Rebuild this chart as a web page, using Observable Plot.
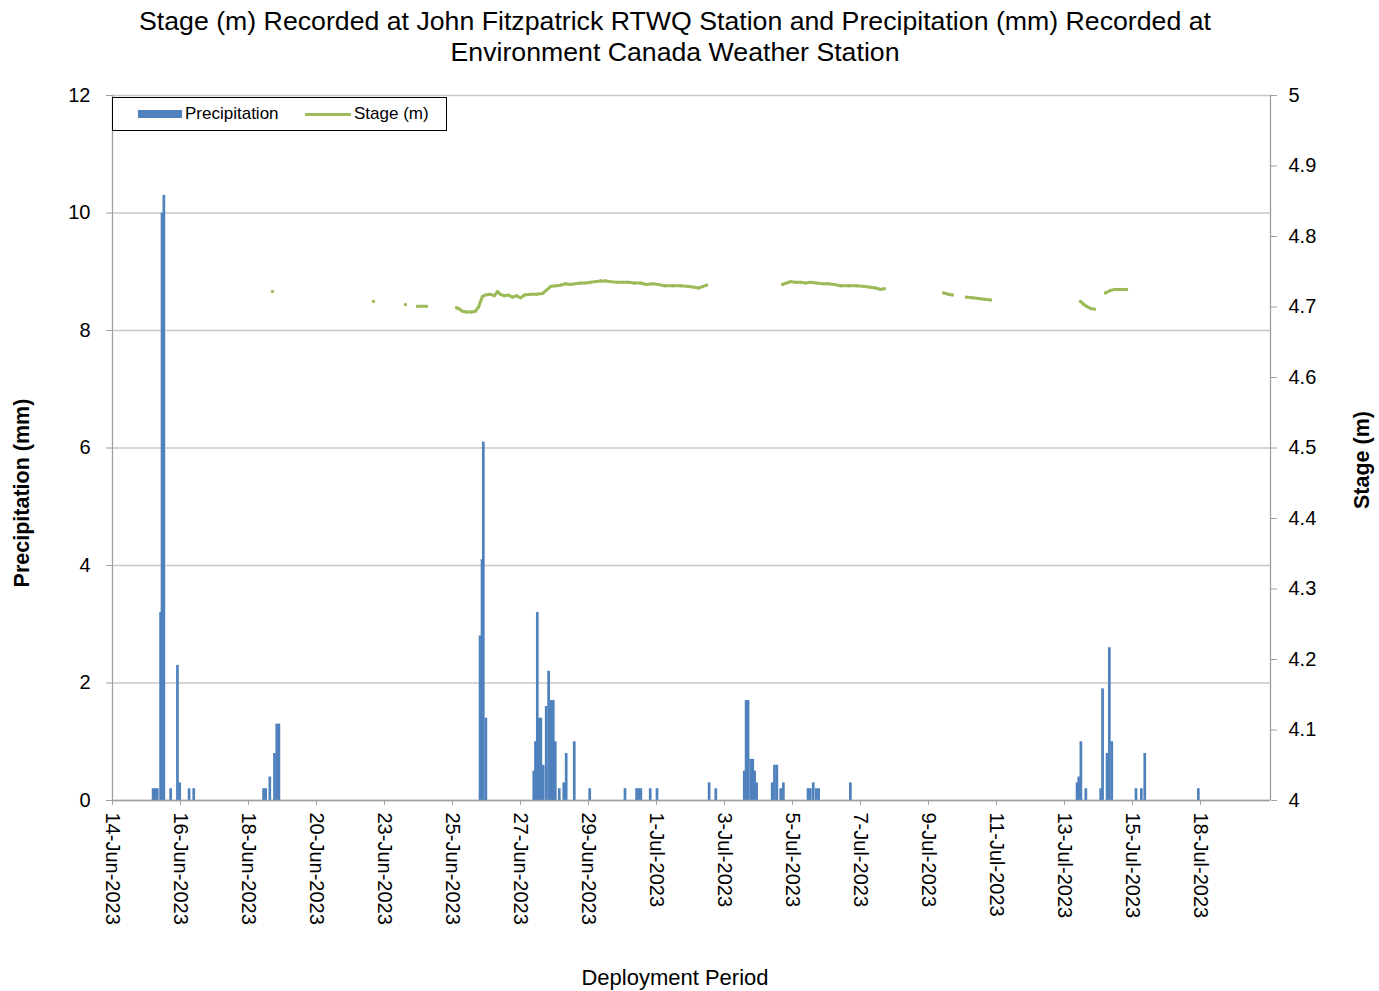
<!DOCTYPE html>
<html>
<head>
<meta charset="utf-8">
<script src="https://cdn.jsdelivr.net/npm/d3@7"></script>
<script src="https://cdn.jsdelivr.net/npm/@observablehq/plot@0.6"></script>
<style>
  body { margin: 0; background: #fff; font-family: "Liberation Sans", Arial, sans-serif; color: #000; }
  #wrap { position: relative; width: 1379px; height: 991px; overflow: hidden; }
  #chart { position: absolute; left: 0; top: 0; }
  #title { position: absolute; top: 6px; left: 0; width: 1350px; text-align: center; font-size: 26.7px; line-height: 31px; }
  .ylab { position: absolute; font-size: 21.5px; font-weight: bold; white-space: nowrap; transform: translate(-50%, -50%) rotate(-90deg); }
  #xlab { position: absolute; left: 675px; top: 978px; transform: translate(-50%, -50%); font-size: 22px; white-space: nowrap; }
  #legend { position: absolute; left: 112px; top: 97px; width: 333px; height: 32px; border: 1.5px solid #000; background: #fff; font-size: 17px; }
  #legend .sw { position: absolute; }
  #legend .tx { position: absolute; top: 50%; transform: translateY(-50%); white-space: nowrap; }
</style>
</head>
<body>
<div id="wrap">
  <div id="chart"></div>
  <div id="title">Stage (m) Recorded at John Fitzpatrick RTWQ Station and Precipitation (mm) Recorded at<br>Environment Canada Weather Station</div>
  <div id="legend"></div>
  <div class="ylab" style="left:22px; top:493px;">Precipitation (mm)</div>
  <div class="ylab" style="left:1362px; top:460px;">Stage (m)</div>
  <div id="xlab">Deployment Period</div>
</div>
<script>
// ---- Data (x = hourly position along the deployment axis, 0 = 14-Jun-2023 00:00) ----
const xTickHours = [0, 48, 96, 144, 192, 240, 288, 336, 384, 432, 480, 528, 576, 624, 672, 720, 768];
const xTickLabels = ["14-Jun-2023", "16-Jun-2023", "18-Jun-2023", "20-Jun-2023", "23-Jun-2023", "25-Jun-2023",
  "27-Jun-2023", "29-Jun-2023", "1-Jul-2023", "3-Jul-2023", "5-Jul-2023", "7-Jul-2023", "9-Jul-2023",
  "11-Jul-2023", "13-Jul-2023", "15-Jul-2023", "18-Jul-2023"];
const axisEndHour = 817.4;

const precipTicks = [0, 2, 4, 6, 8, 10, 12];
const stageTicks = [4, 4.1, 4.2, 4.3, 4.4, 4.5, 4.6, 4.7, 4.8, 4.9, 5];

const precipHour = [
  29.0, 30.5, 32.0, 34.3, 35.3, 36.6, 41.4, 46.2, 47.8, 54.4, 57.7,
  107.0, 108.5, 111.4, 114.7, 116.3, 117.8,
  259.8, 261.2, 262.1, 263.9,
  297.7, 298.9, 300.2, 301.3, 302.7, 304.4, 306.5, 308.2, 310.0, 311.5, 312.9, 315.7, 318.9, 320.6, 326.3, 337.2,
  362.1, 370.3, 371.8, 373.3, 379.9, 384.7,
  421.5, 426.2,
  446.3, 447.6, 449.0, 450.8, 452.3, 453.6, 455.0,
  466.0, 467.6, 469.3, 472.0, 473.9,
  491.3, 492.9, 495.0, 497.2, 498.8,
  521.2,
  681.2, 682.4, 683.9, 687.4, 697.9, 699.2, 702.4, 704.0, 705.7, 722.8, 726.6, 729.0,
  766.8
];
const precipMm = [
  0.2, 0.2, 0.2, 3.2, 10.0, 10.3, 0.2, 2.3, 0.3, 0.2, 0.2,
  0.2, 0.2, 0.4, 0.8, 1.3, 1.3,
  2.8, 4.1, 6.1, 1.4,
  0.5, 1.0, 3.2, 1.4, 1.4, 0.6, 1.6, 2.2, 1.7, 1.7, 1.0, 0.2, 0.3, 0.8, 1.0, 0.2,
  0.2, 0.2, 0.2, 0.2, 0.2, 0.2,
  0.3, 0.2,
  0.5, 1.7, 1.7, 0.7, 0.7, 0.5, 0.3,
  0.3, 0.6, 0.6, 0.2, 0.3,
  0.2, 0.2, 0.3, 0.2, 0.2,
  0.3,
  0.3, 0.4, 1.0, 0.2, 0.2, 1.9, 0.8, 2.6, 1.0, 0.2, 0.2, 0.8,
  0.2
];

// null entries mark gaps in the stage record
const stageHour = [
  112.9, null,
  184.2, null,
  206.8, null,
  215.3, 221.6, null,
  242.8, 244.9, 247.1, 249.9, 253.4, 256.2, 258.4, 259.8, 261.2, 263.3, 266.8, 269.6, 271.8, 273.9, 276.7,
  279.5, 282.4, 285.2, 288.0, 290.8, 295.1, 299.3, 303.5, 306.4, 309.2, 312.7, 316.2, 319.8, 323.3, 326.8,
  330.4, 333.9, 337.4, 340.9, 344.5, 348.0, 351.5, 355.8, 360.0, 364.2, 368.5, 372.7, 376.9, 381.2, 385.4,
  389.6, 395.3, 400.9, 406.6, 410.8, 413.6, 416.5, 419.3, null,
  473.0, 475.8, 478.6, 482.2, 485.7, 489.2, 492.7, 497.0, 501.2, 505.4, 509.6, 513.9, 519.5, 525.2, 530.8,
  535.1, 538.6, 542.1, 544.9, null,
  586.6, 590.1, 592.9, null,
  602.8, 607.1, 611.3, 615.5, 619.8, null,
  683.3, 685.4, 687.5, 690.4, 693.2, null,
  700.9, 703.8, 707.3, 711.5, 715.8
];
const stageM = [
  4.722, null,
  4.708, null,
  4.7035, null,
  4.701, 4.701, null,
  4.699, 4.697, 4.694, 4.693, 4.693, 4.694, 4.700, 4.708, 4.715, 4.717, 4.718, 4.716, 4.722, 4.718, 4.716,
  4.717, 4.714, 4.716, 4.713, 4.717, 4.718, 4.718, 4.719, 4.724, 4.729, 4.730, 4.731, 4.733, 4.732, 4.733,
  4.734, 4.734, 4.735, 4.736, 4.737, 4.737, 4.736, 4.735, 4.735, 4.735, 4.734, 4.734, 4.732, 4.733, 4.732,
  4.730, 4.730, 4.730, 4.729, 4.728, 4.727, 4.729, 4.731, null,
  4.732, 4.734, 4.736, 4.735, 4.735, 4.734, 4.735, 4.734, 4.733, 4.733, 4.732, 4.730, 4.730, 4.730, 4.729,
  4.728, 4.727, 4.725, 4.726, null,
  4.720, 4.718, 4.717, null,
  4.714, 4.713, 4.712, 4.711, 4.710, null,
  4.708, 4.704, 4.701, 4.698, 4.697, null,
  4.720, 4.723, 4.725, 4.725, 4.725
];

// ---- Build tables ----
const BLUE = "#4f81bd", GREEN = "#9bbb59";
const stageMin = 4, stageMax = 5, precipMax = 12;
const toLeft = s => (s - stageMin) / (stageMax - stageMin) * precipMax; // stage -> left-axis units

const barHalf = 0.95;
const precip = precipHour.map((h, i) => ({x1: h - barHalf, x2: h + barHalf, y: precipMm[i]}));
const stage = stageHour.map((h, i) => ({x: h, y: stageM[i] == null ? NaN : toLeft(stageM[i])}));
const stagePts = stage.filter(d => d.x != null && !isNaN(d.y));
const labelOf = new Map(xTickHours.map((h, i) => [h, xTickLabels[i]]));

const AXIS = "#a0a0a0";
const chart = Plot.plot({
  width: 1379, height: 991,
  marginTop: 95, marginBottom: 191, marginLeft: 112, marginRight: 109,
  x: {domain: [0, axisEndHour]},
  y: {domain: [0, precipMax]},
  style: {fontFamily: "'Liberation Sans', Arial, sans-serif", fontSize: "20px", color: "#000", background: "transparent", overflow: "visible"},
  marks: [
    Plot.gridY(precipTicks, {stroke: "#c8c8c8", strokeOpacity: 1, strokeWidth: 1.3}),
    Plot.rectY(precip, {x1: "x1", x2: "x2", y: "y", fill: BLUE}),
    Plot.line(stage, {x: "x", y: "y", stroke: GREEN, strokeWidth: 3, curve: "linear"}),
    Plot.dot(stagePts, {x: "x", y: "y", r: 1.6, fill: GREEN, stroke: null}),
    Plot.ruleY([0], {stroke: AXIS, strokeWidth: 1.3}),
    Plot.ruleX([0], {stroke: AXIS, strokeWidth: 1.3}),
    Plot.ruleX([axisEndHour], {stroke: AXIS, strokeWidth: 1.3}),
    Plot.axisY(precipTicks, {anchor: "left", tickSize: 6, tickPadding: 16, label: null, stroke: AXIS, fontSize: 20, tickFormat: d => String(d)}),
    Plot.axisY(stageTicks.map(toLeft), {anchor: "right", tickSize: 6, tickPadding: 12, label: null, stroke: AXIS, fontSize: 20,
      tickFormat: (d) => String(+(stageMin + d / precipMax * (stageMax - stageMin)).toFixed(1))}),
    Plot.axisX(xTickHours, {anchor: "bottom", tickSize: 5, tickPadding: 7, tickRotate: 90, label: null, stroke: AXIS, fontSize: 20,
      tickFormat: d => labelOf.get(d)})
  ]
});
document.getElementById("chart").appendChild(chart);

// ---- Legend ----
const legend = document.getElementById("legend");
legend.innerHTML = `
  <div class="sw" style="left:25px; top:12px; width:44px; height:8px; background:${BLUE}"></div>
  <div class="tx" style="left:72px;">Precipitation</div>
  <div class="sw" style="left:192px; top:15px; width:46px; height:2.5px; background:${GREEN}"></div>
  <div class="tx" style="left:241px;">Stage (m)</div>`;
</script>
</body>
</html>
